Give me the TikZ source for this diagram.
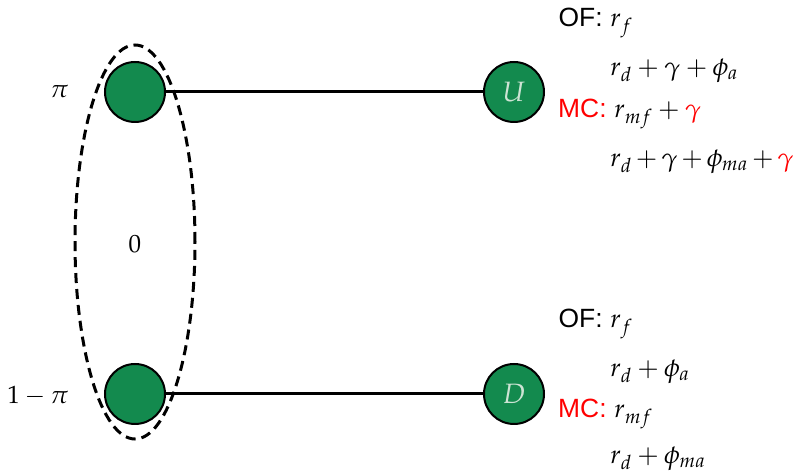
\documentclass[tikz,border=0pt]{standalone}
\usepackage{mathpazo}
\usepackage{fontspec}
\newfontfamily\labelfont{Liberation Sans}
\usetikzlibrary{shapes.geometric}
\definecolor{nodegreen}{RGB}{19,138,78}
\definecolor{lettergreen}{RGB}{205,228,212}
\definecolor{mcred}{RGB}{255,0,0}
\tikzset{
  state/.style={circle, draw=black, line width=1pt, fill=nodegreen, minimum size=30pt, inner sep=0pt, text=lettergreen, font=\fontsize{14}{16}\selectfont},
  edge/.style={line width=1.5pt},
  tag/.style={anchor=base east, inner sep=0pt, font=\labelfont\fontsize{13.2}{16}\selectfont},
  expr/.style={anchor=base west, inner sep=0pt, font=\fontsize{13}{16}\selectfont},
  prob/.style={anchor=base east, inner sep=0pt, font=\fontsize{12.5}{14}\selectfont}
}
\begin{document}
\begin{tikzpicture}[x=0.5pt,y=-0.5pt]
  \useasboundingbox (0,0) rectangle (794,475);
  % information set
  \node[ellipse, draw, dashed, dash pattern=on 5pt off 3pt, line width=1.5pt, minimum width=60pt, minimum height=197pt, inner sep=0pt] (set) at (135,242) {};
  \node[font=\fontsize{12.5}{14}\selectfont] (zero) at (135,244) {$0$};
  % nodes
  \node[state] (hi) at (135,92) {};
  \node[state] (lo) at (135,394) {};
  \node[state] (U) at (514,92) {$U$};
  \node[state] (D) at (514,394) {$D$};
  \draw[edge] (hi) -- (U);
  \draw[edge] (lo) -- (D);
  % probabilities
  \node[prob] (p1) at (69,98) {$\pi$};
  \node[prob] (p2) at (69,404) {$1-\pi$};
  % payoffs for U
  \node[tag] (of1) at (603,27) {OF:};
  \node[expr] (e1) at (610,27) {$r_f$};
  \node[expr] (e2) at (610,76) {$r_d+\gamma+\phi_a$};
  \node[tag, text=mcred] (mc1) at (607,118) {MC:};
  \node[expr] (e3) at (614,118) {$r_{mf}+\textcolor{mcred}{\gamma}$};
  \node[expr] (e4) at (610,167) {$\medmuskip=2.5mu r_d+\gamma+\phi_{ma}+\textcolor{mcred}{\gamma}$};
  % payoffs for D
  \node[tag] (of2) at (603,328) {OF:};
  \node[expr] (e5) at (610,328) {$r_f$};
  \node[expr] (e6) at (610,377) {$r_d+\phi_a$};
  \node[tag, text=mcred] (mc2) at (607,418) {MC:};
  \node[expr] (e7) at (614,418) {$r_{mf}$};
  \node[expr] (e8) at (610,464) {$r_d+\phi_{ma}$};
\end{tikzpicture}
\end{document}
